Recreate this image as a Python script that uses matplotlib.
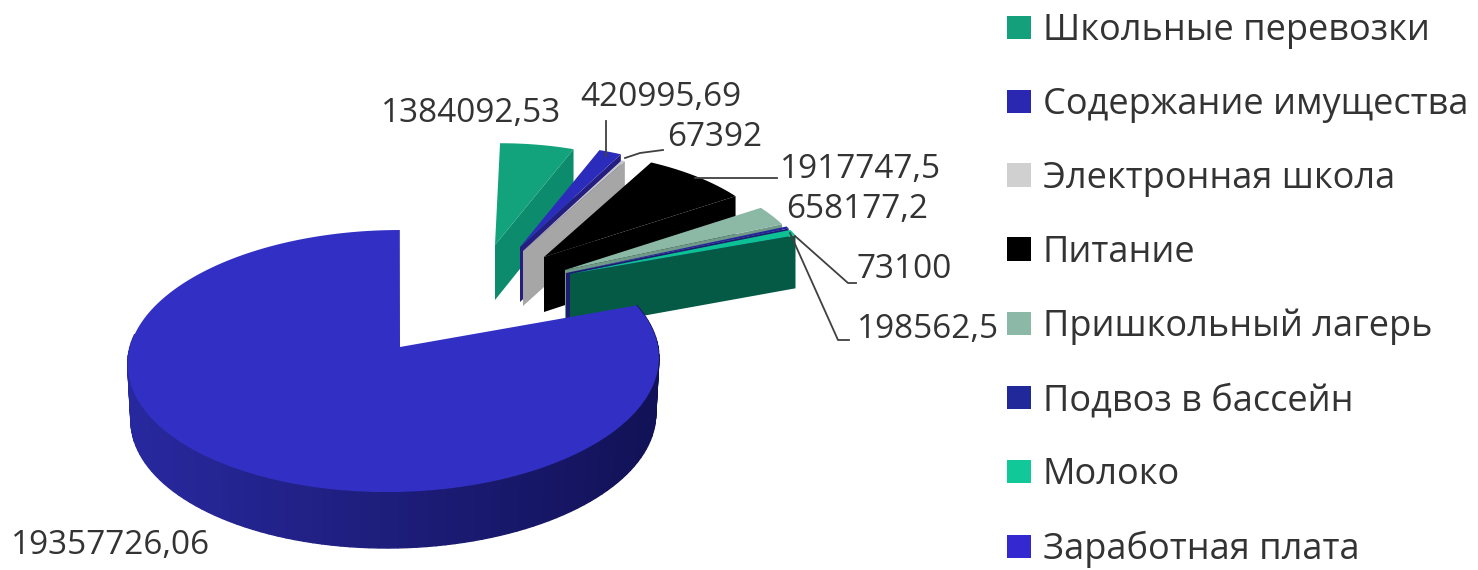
import numpy as np
import matplotlib
matplotlib.use('Agg')
import matplotlib.pyplot as plt
from matplotlib.patches import Patch

categories = ['Школьные перевозки', 'Содержание имущества', 'Электронная школа', 'Питание',
              'Пришкольный лагерь', 'Подвоз в бассейн', 'Молоко', 'Заработная плата']
values = [1384092.53, 420995.69, 67392, 1917747.5, 658177.2, 73100, 198562.5, 19357726.06]

top_colors = ['#12A27C', '#2C2CBC', '#C6C6C6', '#000000', '#8CB9A6', '#24249C', '#0CC294', '#3230C4']
cut_colors = ['#0C8C6C', '#241E80', '#A6A6A6', '#000000', '#6F9A88', '#1C1C70', '#055A46', '#1C1C80']
legend_colors = ['#14A07A', '#2A28B0', '#D0D0D0', '#000000', '#8CB8A8', '#20289A', '#10C898', '#3428D0']

# where each slice ended up on screen (exploded by hand in the original)
apex_x = [495, 520, 523, 544, 565, 566, 570, 400]
apex_y = [245, 247, 251, 257, 270, 273, 274, 347]
scale = [0.87, 0.88, 0.86, 0.905, 0.925, 0.94, 0.93, 1.0]
depth = 53

W, H, K, VX = 264.0, 129.5, 0.107, 60.0


def project(theta, cx, cy, s, shrink=1.0):
    x = np.cos(theta)
    y = np.sin(theta)
    p = 1.0 / (1.0 + K * y)
    return cx + s * shrink * (x * W + VX * K * y) * p, cy - s * y * H * p


fig = plt.figure(figsize=(14.78, 5.70), dpi=100)
ax = fig.add_axes([0, 0, 1, 1])
ax.set_xlim(0, 1478)
ax.set_ylim(570, 0)
ax.axis('off')

sweep = 2 * np.pi * np.array(values) / sum(values)
start = np.pi / 2

for i in range(len(values)):
    end = start - sweep[i]
    if i == len(values) - 1:
        # big slice: rim first, shaded left to right, then the top
        cx = 394
        seg = np.linspace(start, -np.pi - 0.1, 110)
        left = np.array([0x28, 0x28, 0x9E]) / 255
        right = np.array([0x12, 0x12, 0x58]) / 255
        for a, b in zip(seg[:-1], seg[1:]):
            x1, y1 = project(np.array([a, b]), cx, apex_y[i], 1.0)
            x2, y2 = project(np.array([b, a]), cx, apex_y[i] + 56, 1.0, 0.988)
            t = np.clip((x1[0] - 140) / 510, 0, 1)
            ax.fill(np.r_[x1, x2], np.r_[y1, y2], color=left + (right - left) * t, lw=1.0, zorder=i + 1)
        arc = np.linspace(start, end, 300)
        px, py = project(arc, cx, apex_y[i], 1.0)
        ax.fill(np.r_[apex_x[i], px], np.r_[apex_y[i], py], color=top_colors[i], lw=0, zorder=i + 1.5)
    else:
        arc = np.linspace(start, end, 40)
        px, py = project(arc, apex_x[i], apex_y[i], scale[i])
        # cut face on the clockwise side, the one facing the viewer
        ax.fill([apex_x[i], px[-1], px[-1], apex_x[i]],
                [apex_y[i], py[-1], py[-1] + depth, apex_y[i] + depth + 2],
                color=cut_colors[i], lw=0, zorder=i + 1)
        ax.fill(np.r_[apex_x[i], px], np.r_[apex_y[i], py], color=top_colors[i], lw=0, zorder=i + 1.5)
    start = end

# leader lines
leader_c = '#404040'
ax.plot([606, 606], [121, 156], color=leader_c, lw=1.3, zorder=20)
ax.plot([625, 640, 663], [158, 153, 150], color=leader_c, lw=1.3, zorder=20)
ax.plot([695, 777], [178, 178], color=leader_c, lw=1.3, zorder=20)
ax.plot([795, 848, 856], [236, 283, 283], color=leader_c, lw=1.3, zorder=20)
ax.plot([790, 838, 849], [233, 340, 340], color=leader_c, lw=1.3, zorder=20)

label_x = [381, 580, 667, 780, 786, 857, 857, 11]
label_y = [113, 98, 138, 169, 209, 270, 329, 545]
for v, lx, ly in zip(values, label_x, label_y):
    ax.text(lx, ly, str(v).replace('.', ','), family='Open Sans', fontsize=24, color='#333333',
            ha='left', va='center', zorder=21)

handles = [Patch(facecolor=c, edgecolor='none', label=n) for c, n in zip(legend_colors, categories)]
ax.legend(handles=handles, loc='upper left', bbox_to_anchor=(1007 / 1478, 1 - 13 / 570), frameon=False,
          prop={'family': 'Open Sans', 'size': 26}, labelcolor='#333333', handlelength=0.66,
          handleheight=0.62, handletextpad=0.33, labelspacing=1.05, borderpad=0, borderaxespad=0)

fig.savefig('out.png', dpi=100)
